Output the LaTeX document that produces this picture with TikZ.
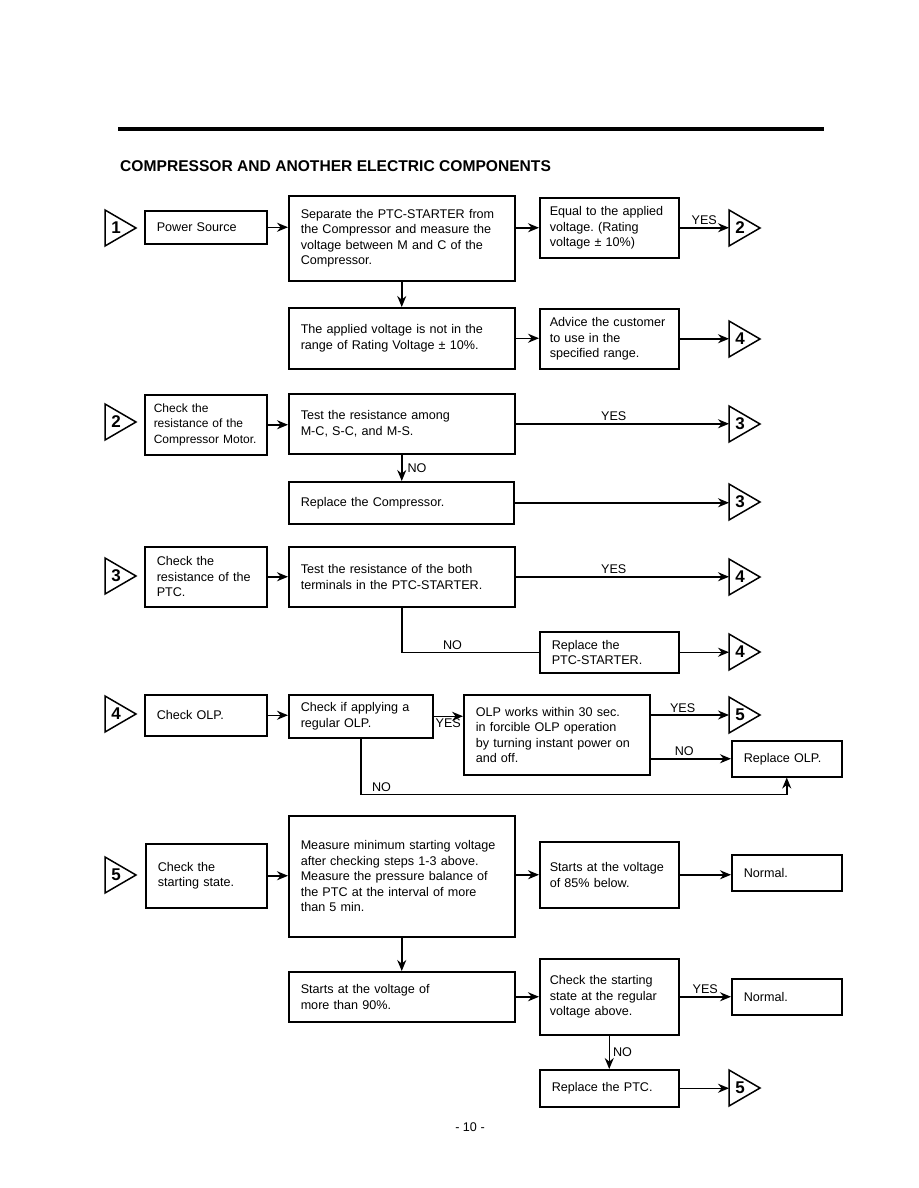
\documentclass[tikz,border=0pt]{standalone}
\usepackage{fontspec}
\setmainfont{Liberation Sans}
\usetikzlibrary{arrows.meta}
\frenchspacing

\newcommand\jump[3]{%
  \coordinate (#1) at #2;
  \draw[tri] (#1) ++(0,-18) -- ++(31,18) -- ++(-31,18) -- cycle;
  \node[num] (#1n) at ([xshift=11pt]#1) {#3};
}

\begin{document}
\begin{tikzpicture}[
    x=1pt, y=-1pt,
    box/.style 2 args={rectangle, draw, line width=1.5pt, anchor=north west,
                align=left, inner xsep=12pt, inner ysep=0pt, text width=#1,
                minimum height=#2, font=\fontsize{12.6}{15.5}\selectfont},
    lbl/.style={font=\fontsize{12.6}{15}\selectfont, inner sep=2pt},
    title/.style={font=\fontsize{15.6}{18}\selectfont\bfseries, inner sep=0pt},
    num/.style={font=\fontsize{17}{17}\selectfont\bfseries, inner sep=0pt},
    tri/.style={draw, line width=1.5pt, line join=miter},
    arr/.style={line width=1.5pt, -{Stealth[length=11pt, width=9pt]}},
    link/.style={line width=1.5pt}
]
    \useasboundingbox (0,0) rectangle (918,1188);

    \draw[line width=4.5pt] (118,129) -- (824,129);
    \node[title, anchor=base west] (head) at (120,171) {COMPRESSOR AND ANOTHER ELECTRIC COMPONENTS};

    \jump{s1}{(105,228)}{1}
    \node[box={98pt}{33pt}] (ps) at (144,210) {Power Source};
    \node[box={202pt}{85pt}] (sep) at (288,195) {Separate the PTC-STARTER from\\the Compressor and measure the\\voltage between M and C of the\\Compressor.};
    \node[box={119pt}{60pt}, inner xsep=10pt] (eq) at (539,197) {Equal to the applied\\voltage. (Rating\\voltage ± 10\%)};
    \jump{t2}{(729,228)}{2}
    \node[box={202pt}{61pt}] (appl) at (288,307) {The applied voltage is not in the\\range of Rating Voltage ± 10\%.};
    \node[box={119pt}{60pt}, inner xsep=10pt] (adv) at (539,308) {Advice the customer\\to use in the\\specified range.};
    \jump{t4a}{(729,339)}{4}

    \draw[arr] (ps.east) -- (ps.east -| sep.west);
    \draw[arr] (sep.east |- eq.west) -- (eq.west);
    \draw[arr] (eq.east) -- (eq.east -| t2) node[lbl, midway, above] {YES};
    \draw[arr] (sep.south) -- (appl.north);
    \draw[arr] (appl.east) -- (appl.east -| adv.west);
    \draw[arr] (adv.east) -- (adv.east -| t4a);

    \jump{s2}{(105,422)}{2}
    \node[box={104pt}{60pt}, inner xsep=9pt, font=\fontsize{12}{15.5}\selectfont] (ck2) at (144,394) {Check the\\resistance of the\\Compressor Motor.};
    \node[box={202pt}{60pt}] (tst2) at (288,393) {Test the resistance among\\M-C, S-C, and M-S.};
    \node[box={201pt}{42pt}] (rpc) at (288,481) {Replace the Compressor.};
    \jump{t3a}{(729,424)}{3}
    \jump{t3b}{(729,502)}{3}

    \draw[arr] (ck2.east) -- (ck2.east -| tst2.west);
    \draw[arr] (tst2.east) -- (tst2.east -| t3a) node[lbl, pos=0.46, above] {YES};
    \draw[arr] (tst2.south) -- (tst2.south |- rpc.north) node[lbl, midway, right, xshift=3pt] {NO};
    \draw[arr] (rpc.east) -- (rpc.east -| t3b);

    \jump{s3}{(105,576)}{3}
    \node[box={98pt}{60pt}] (ck3) at (144,546) {Check the\\resistance of the\\PTC.};
    \node[box={202pt}{60pt}] (tst3) at (288,546) {Test the resistance of the both\\terminals in the PTC-STARTER.};
    \node[box={115pt}{41pt}] (rptc) at (539,631) {Replace the\\PTC-STARTER.};
    \jump{t4b}{(729,577)}{4}
    \jump{t4c}{(729,652)}{4}

    \draw[arr] (ck3.east) -- (ck3.east -| tst3.west);
    \draw[arr] (tst3.east) -- (tst3.east -| t4b) node[lbl, pos=0.46, above] {YES};
    \draw[link] (tst3.south) |- (rptc.west) node[lbl, pos=0.685, above] {NO};
    \draw[arr] (rptc.east) -- (rptc.east -| t4c);

    \jump{s4}{(105,714)}{4}
    \node[box={98pt}{41pt}] (olp) at (144,694) {Check OLP.};
    \node[box={120pt}{43pt}] (reg) at (288,694) {Check if applying a\\regular OLP.};
    \node[box={162pt}{80pt}] (works) at (463,694) {OLP works within 30 sec.\\in forcible OLP operation\\by turning instant power on\\and off.};
    \node[box={86pt}{36pt}] (rolp) at (731,740) {Replace OLP.};
    \jump{t5a}{(729,715)}{5}

    \draw[arr] (olp.east) -- (olp.east -| reg.west);
    \draw[arr] (reg.east) -- (reg.east -| works.west) node[lbl, midway, below] {YES};
    \draw[arr] (works.east |- t5a) -- (t5a) node[lbl, pos=0.41, above] {YES};
    \draw[arr] (works.east |- rolp.west) -- (rolp.west) node[lbl, pos=0.42, above] {NO};
    \draw[arr] (reg.south) -- ++(0,56) -| (rolp.south) node[lbl, pos=0.01, above right] {NO};

    \jump{s5}{(105,875)}{5}
    \node[box={97pt}{64pt}] (ck5) at (145,843) {Check the\\starting state.};
    \node[box={202pt}{121pt}] (meas) at (288,815) {Measure minimum starting voltage\\after checking steps 1-3 above.\\Measure the pressure balance of\\the PTC at the interval of more\\than 5 min.};
    \node[box={119pt}{66pt}, inner xsep=10pt] (s85) at (539,841) {Starts at the voltage\\of 85\% below.};
    \node[box={86pt}{36pt}] (nrm1) at (731,854) {Normal.};
    \node[box={202pt}{50pt}] (s90) at (288,971) {Starts at the voltage of\\more than 90\%.};
    \node[box={119pt}{76pt}, inner xsep=10pt] (reg5) at (539,958) {Check the starting\\state at the regular\\voltage above.};
    \node[box={86pt}{36pt}] (nrm2) at (731,978) {Normal.};
    \node[box={115pt}{37pt}] (rptc5) at (539,1069) {Replace the PTC.};
    \jump{t5b}{(729,1088)}{5}

    \draw[arr] (ck5.east) -- (ck5.east -| meas.west);
    \draw[arr] (meas.east |- s85.west) -- (s85.west);
    \draw[arr] (s85.east) -- (s85.east -| nrm1.west);
    \draw[arr] (meas.south) -- (meas.south |- s90.north);
    \draw[arr] (s90.east) -- (s90.east -| reg5.west);
    \draw[arr] (reg5.east) -- (reg5.east -| nrm2.west) node[lbl, midway, above] {YES};
    \draw[arr] (reg5.south) -- (reg5.south |- rptc5.north) node[lbl, midway, right, xshift=1pt] {NO};
    \draw[arr] (rptc5.east) -- (rptc5.east -| t5b);

    \node[lbl] (page) at (470,1127) {- 10 -};
\end{tikzpicture}
\end{document}
